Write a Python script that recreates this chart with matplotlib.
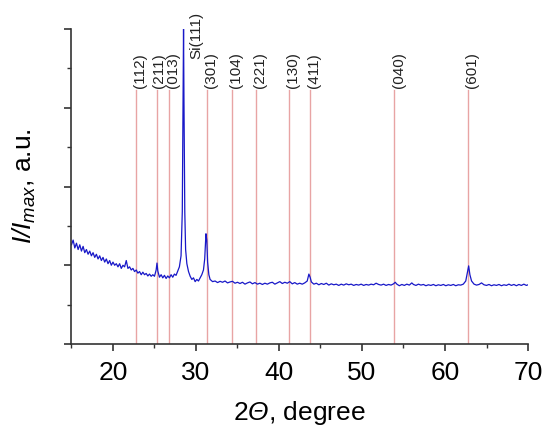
import matplotlib
matplotlib.use('Agg')
import matplotlib.pyplot as plt
from matplotlib.ticker import MultipleLocator, NullFormatter

plt.rcParams['font.family'] = ['Liberation Sans', 'DejaVu Sans']
plt.rcParams['mathtext.fontset'] = 'custom'
# labels use math only for italic symbols, so rm can be italic too (Greek capitals go to rm)
plt.rcParams['mathtext.rm'] = 'Liberation Sans:italic'
plt.rcParams['mathtext.it'] = 'Liberation Sans:italic'

# XRD pattern (2theta, normalised intensity)
two_theta = [
    15.0, 15.2, 15.4, 15.6, 15.8, 16.0, 16.2, 16.4, 16.6, 16.8,
    17.0, 17.2, 17.4, 17.6, 17.8, 18.0, 18.2, 18.4, 18.6, 18.8,
    19.0, 19.2, 19.4, 19.6, 19.8, 20.0, 20.2, 20.4, 20.6, 20.8,
    21.0, 21.2, 21.4, 21.6, 21.8, 22.0, 22.2, 22.4, 22.6, 22.8,
    23.0, 23.2, 23.4, 23.6, 23.8, 24.0, 24.2, 24.4, 24.6, 24.8,
    25.0, 25.2, 25.3, 25.4, 25.6, 25.8, 26.0, 26.2, 26.4, 26.6,
    26.8, 27.0, 27.2, 27.4, 27.6, 27.8, 28.0, 28.2, 28.35, 28.45,
    28.5, 28.55, 28.65, 28.75, 28.9, 29.1, 29.3, 29.5, 29.7, 29.9,
    30.1, 30.3, 30.5, 30.7, 30.9, 31.05, 31.2, 31.3, 31.4, 31.55,
    31.7, 32.0, 32.3, 32.6, 32.9, 33.2, 33.5, 33.8, 34.1, 34.4,
    34.7, 35.0, 35.3, 35.6, 35.9, 36.2, 36.5, 36.8, 37.1, 37.4,
    37.7, 38.0, 38.3, 38.6, 38.9, 39.2, 39.5, 39.8, 40.1, 40.4,
    40.7, 41.0, 41.3, 41.6, 41.9, 42.2, 42.5, 42.8, 43.1, 43.4,
    43.6, 43.75, 43.9, 44.2, 44.5, 44.8, 45.1, 45.4, 45.7, 46.0,
    46.3, 46.6, 46.9, 47.2, 47.5, 47.8, 48.1, 48.4, 48.7, 49.0,
    49.3, 49.6, 49.9, 50.2, 50.5, 50.8, 51.1, 51.4, 51.7, 52.0,
    52.3, 52.6, 52.9, 53.2, 53.5, 53.8, 54.0, 54.2, 54.5, 54.8,
    55.1, 55.4, 55.7, 56.0, 56.2, 56.5, 56.8, 57.1, 57.4, 57.7,
    58.0, 58.3, 58.6, 58.9, 59.2, 59.5, 59.8, 60.1, 60.4, 60.7,
    61.0, 61.3, 61.6, 61.9, 62.2, 62.5, 62.7, 62.85, 63.0, 63.2,
    63.5, 63.8, 64.1, 64.4, 64.7, 65.0, 65.3, 65.6, 65.9, 66.2,
    66.5, 66.8, 67.1, 67.4, 67.7, 68.0, 68.3, 68.6, 68.9, 69.2,
    69.5, 69.8, 70.0,
]
intensity = [
    0.315, 0.330, 0.305, 0.320, 0.300, 0.315, 0.295, 0.310, 0.290, 0.300,
    0.285, 0.295, 0.280, 0.290, 0.275, 0.285, 0.270, 0.280, 0.265, 0.275,
    0.260, 0.270, 0.255, 0.265, 0.250, 0.260, 0.250, 0.255, 0.245, 0.255,
    0.240, 0.250, 0.245, 0.265, 0.240, 0.245, 0.235, 0.240, 0.230, 0.235,
    0.225, 0.230, 0.220, 0.228, 0.220, 0.224, 0.216, 0.222, 0.215, 0.220,
    0.215, 0.235, 0.257, 0.232, 0.212, 0.220, 0.210, 0.218, 0.208, 0.216,
    0.210, 0.220, 0.212, 0.222, 0.218, 0.232, 0.245, 0.280, 0.420, 0.800,
    1.000, 0.780, 0.420, 0.300, 0.255, 0.230, 0.215, 0.205, 0.210, 0.198,
    0.205, 0.200, 0.210, 0.220, 0.235, 0.270, 0.350, 0.330, 0.260, 0.220,
    0.205, 0.198, 0.200, 0.195, 0.199, 0.196, 0.200, 0.194, 0.197, 0.199,
    0.193, 0.196, 0.192, 0.196, 0.190, 0.194, 0.197, 0.191, 0.195, 0.190,
    0.193, 0.189, 0.193, 0.190, 0.194, 0.196, 0.190, 0.194, 0.198, 0.192,
    0.196, 0.193, 0.198, 0.191, 0.195, 0.190, 0.193, 0.190, 0.194, 0.200,
    0.222, 0.212, 0.197, 0.190, 0.193, 0.188, 0.192, 0.189, 0.193, 0.187,
    0.191, 0.188, 0.190, 0.186, 0.190, 0.187, 0.191, 0.188, 0.190, 0.186,
    0.189, 0.187, 0.190, 0.186, 0.189, 0.187, 0.190, 0.188, 0.193, 0.189,
    0.187, 0.190, 0.186, 0.189, 0.187, 0.191, 0.196, 0.190, 0.185, 0.189,
    0.186, 0.190, 0.187, 0.194, 0.189, 0.186, 0.190, 0.187, 0.189, 0.185,
    0.188, 0.186, 0.189, 0.185, 0.188, 0.186, 0.189, 0.185, 0.188, 0.186,
    0.189, 0.185, 0.188, 0.187, 0.190, 0.200, 0.228, 0.248, 0.220, 0.200,
    0.190, 0.187, 0.189, 0.194, 0.188, 0.186, 0.189, 0.185, 0.188, 0.186,
    0.189, 0.185, 0.188, 0.186, 0.190, 0.186, 0.189, 0.185, 0.189, 0.186,
    0.190, 0.186, 0.188,
]

# reference reflections
ref_pos = [22.8, 25.3, 26.7, 31.3, 34.3, 37.2, 41.2, 43.7, 53.9, 62.8]
ref_hkl = ['(112)', '(211)', '(013)', '(301)', '(104)', '(221)', '(130)', '(411)', '(040)', '(601)']
si_pos = 28.5
si_label = 'Si(111)'

fig = plt.figure(figsize=(5.44, 4.34), dpi=100)
ax = fig.add_axes([0.1314, 0.2074, 0.8392, 0.7256])

for pos, hkl in zip(ref_pos, ref_hkl):
    ax.plot([pos, pos], [0, 0.805], color='#e8a4a4', lw=1.0, zorder=1)
    # (211) and (013) sit close together, nudge the first one left a bit
    dx = 0.2 if hkl == '(211)' else 0.5
    ax.text(pos + dx, 0.812, hkl, rotation=90, ha='center', va='bottom',
            fontsize=11, color='#222222')
ax.text(si_pos + 1.55, 0.905, si_label, rotation=90, ha='center', va='bottom',
        fontsize=11, color='#222222')

ax.plot(two_theta, intensity, color='#1818c8', lw=0.9, zorder=2)

ax.set_xlim(15, 70)
ax.set_ylim(0, 1)
ax.xaxis.set_major_locator(MultipleLocator(10))
ax.xaxis.set_minor_locator(MultipleLocator(5))
ax.yaxis.set_major_locator(MultipleLocator(0.25))
ax.yaxis.set_minor_locator(MultipleLocator(0.125))
ax.yaxis.set_major_formatter(NullFormatter())

for side in ['top', 'right']:
    ax.spines[side].set_visible(False)
for side in ['left', 'bottom']:
    ax.spines[side].set_linewidth(1.2)
    ax.spines[side].set_color('#333333')

ax.tick_params(which='major', direction='out', length=5, width=1.2, color='#333333',
               labelsize=19, pad=7)
ax.tick_params(which='minor', direction='out', length=3, width=1.0, color='#333333')

ax.set_xlabel(r'2$\Theta$, degree', fontsize=19, labelpad=10)
ax.set_ylabel(r'$I/I_{max}$, a.u.', fontsize=19, labelpad=12)

fig.savefig('out.png', dpi=100)
